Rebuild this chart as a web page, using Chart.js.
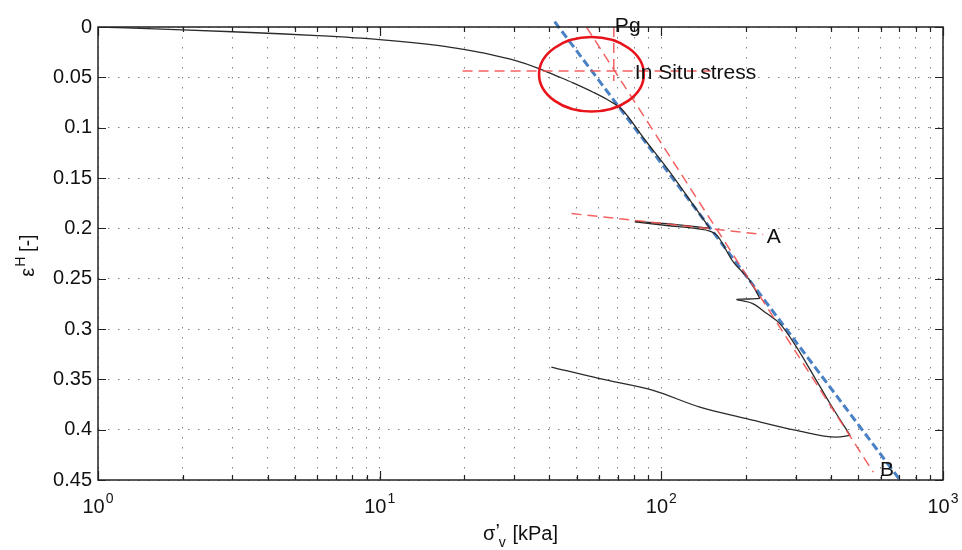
<!DOCTYPE html>
<html><head><meta charset="utf-8">
<script src="https://cdn.jsdelivr.net/npm/chart.js@4.4.1/dist/chart.umd.min.js"></script>
<style>html,body{margin:0;padding:0;background:#fff}#wrap{width:962px;height:550px;position:relative}</style>
</head><body><div id="wrap"><canvas id="c" width="962" height="550"></canvas></div>
<script>
// ---- data ----
// first loading up to point A
const loadSigma = [1, 2.0, 3.0, 4.0, 6.0, 10, 16.3, 20.1, 24.6, 30, 37, 42, 48.6, 57.3, 65.6, 72.1, 87.4, 106, 126.3, 148.6];
const loadEps = [0, 0.0028, 0.0047, 0.0062, 0.0085, 0.0125, 0.0185, 0.0225, 0.0272, 0.033, 0.0415, 0.048, 0.0555, 0.0648, 0.0735, 0.0812, 0.112, 0.1422, 0.172, 0.200];
// unloading from A
const unloadASigma = [80.5, 104.6, 148.6];
const unloadAEps = [0.193, 0.1954, 0.200];
// reloading from A-loop and further loading
const reloadASigma = [80.5, 104.6, 133.7, 148.6, 157.4, 180, 205, 223.9];
const reloadAEps = [0.1935, 0.1972, 0.2003, 0.2027, 0.2068, 0.2334, 0.251, 0.2695];
// second small unloading
const unload2Sigma = [185, 205, 223.9];
const unload2Eps = [0.2705, 0.2702, 0.2695];
// second reloading up to the end
const reload2Sigma = [185, 211, 237, 263.6, 302, 350, 397, 468];
const reload2Eps = [0.2708, 0.2748, 0.2847, 0.2947, 0.318, 0.348, 0.374, 0.4057];
// final unloading
const finalSigma = [40.7, 60.5, 93.5, 137, 200.8, 302, 419, 468];
const finalEps = [0.3378, 0.3494, 0.361, 0.3776, 0.389, 0.4007, 0.4074, 0.4057];
// reference lines
const blueSigma = [41.8, 703.7];
const blueEps = [-0.0053, 0.45];
const nclSigma = [54.2, 565.5];
const nclEps = [0, 0.4422];
const urlSigma = [48.0, 230];
const urlEps = [0.1853, 0.2061];
const insituSigma = [19.7, 150];
const insituEps = [0.0437, 0.0437];
const pgSigma = [67.8, 67.8];
const pgEps = [0, 0.0537];
const circleSigma = [36.8, 86.7];
const circleEps = [0.010, 0.084];
const noteTexts = ['Pg', 'In Situ stress', 'A', 'B'];
const noteSigma = [68.4, 80.5, 236.5, 597];
const noteEps = [0.0045, 0.0517, 0.2148, 0.4465];
const xMajor = [1, 10, 100, 1000];
const xExponents = ['0', '1', '2', '3'];
const yTicks = [0, 0.05, 0.1, 0.15, 0.2, 0.25, 0.3, 0.35, 0.4, 0.45];
const yTickLabels = ['0', '0.05', '0.1', '0.15', '0.2', '0.25', '0.3', '0.35', '0.4', '0.45'];
const xTitle = ['σ', '\u2019', 'v', ' [kPa]'];
const yTitle = ['ε', 'H', ' [-]'];

// ---- build ----
const zip = (xs, ys) => xs.map((x, i) => ({x: x, y: ys[i]}));
const xGrid = [];
xMajor.forEach((m, i) => { xGrid.push(m); if (i < xMajor.length - 1) for (let k = 2; k <= 9; k++) xGrid.push(m * k); });

const FONT = '"Liberation Sans", Arial, sans-serif';
const RED = 'rgba(242,80,80,0.9)';
const BLACK = '#2a2a2a';

const decor = {
  id: 'decor',
  afterDraw(chart) {
    const ctx = chart.ctx, ca = chart.chartArea, xs = chart.scales.x, ys = chart.scales.y;
    ctx.save();
    // ellipse
    const x1 = xs.getPixelForValue(circleSigma[0]), x2 = xs.getPixelForValue(circleSigma[1]);
    const y1 = ys.getPixelForValue(circleEps[0]), y2 = ys.getPixelForValue(circleEps[1]);
    ctx.beginPath();
    ctx.ellipse((x1 + x2) / 2, (y1 + y2) / 2, Math.abs(x2 - x1) / 2, Math.abs(y2 - y1) / 2, 0, 0, Math.PI * 2);
    ctx.strokeStyle = '#e8141c'; ctx.lineWidth = 2.6; ctx.stroke();
    // frame
    ctx.strokeStyle = '#222'; ctx.lineWidth = 1.5;
    ctx.strokeRect(ca.left, ca.top, ca.right - ca.left, ca.bottom - ca.top);
    // ticks
    ctx.lineWidth = 1.2;
    ctx.beginPath();
    xGrid.forEach(v => {
      const px = Math.round(xs.getPixelForValue(v)) + 0.5;
      const len = xMajor.includes(v) ? 9 : 5;
      ctx.moveTo(px, ca.bottom); ctx.lineTo(px, ca.bottom - len);
      ctx.moveTo(px, ca.top); ctx.lineTo(px, ca.top + len);
    });
    yTicks.forEach(v => {
      const py = Math.round(ys.getPixelForValue(v)) + 0.5;
      ctx.moveTo(ca.left, py); ctx.lineTo(ca.left + 8, py);
      ctx.moveTo(ca.right, py); ctx.lineTo(ca.right - 8, py);
    });
    ctx.stroke();
    ctx.fillStyle = '#111';
    // y tick labels
    ctx.font = '20px ' + FONT; ctx.textAlign = 'right'; ctx.textBaseline = 'middle';
    yTicks.forEach((v, i) => ctx.fillText(yTickLabels[i], ca.left - 6, ys.getPixelForValue(v)));
    // x tick labels 10^n
    ctx.textBaseline = 'alphabetic'; ctx.textAlign = 'left';
    xMajor.forEach((v, i) => {
      ctx.font = '20px ' + FONT; const w1 = ctx.measureText('10').width;
      ctx.font = '14px ' + FONT; const w2 = ctx.measureText(xExponents[i]).width;
      const x0 = xs.getPixelForValue(v) - (w1 + w2 + 1) / 2;
      ctx.font = '20px ' + FONT; ctx.fillText('10', x0, 513);
      ctx.font = '14px ' + FONT; ctx.fillText(xExponents[i], x0 + w1 + 1, 503);
    });
    // x title
    {
      ctx.font = '20px ' + FONT;
      const wa = ctx.measureText(xTitle[0]).width, wb = ctx.measureText(xTitle[1]).width, wd = ctx.measureText(xTitle[3]).width;
      ctx.font = '14px ' + FONT; const wc = ctx.measureText(xTitle[2]).width;
      let x0 = (ca.left + ca.right) / 2 - (wa + wb + wc + wd) / 2;
      const base = 540;
      ctx.font = '20px ' + FONT; ctx.fillText(xTitle[0], x0, base); ctx.fillText(xTitle[1], x0 + wa, base - 2);
      ctx.font = '14px ' + FONT; ctx.fillText(xTitle[2], x0 + wa + wb - 1, base + 7);
      ctx.font = '20px ' + FONT; ctx.fillText(xTitle[3], x0 + wa + wb + wc, base);
    }
    // y title (rotated)
    {
      ctx.save();
      ctx.translate(34, (ca.top + ca.bottom) / 2 + 2);
      ctx.rotate(-Math.PI / 2);
      ctx.font = '20px ' + FONT;
      const wa = ctx.measureText(yTitle[0]).width, wc = ctx.measureText(yTitle[2]).width;
      ctx.font = '14px ' + FONT; const wb = ctx.measureText(yTitle[1]).width;
      const x0 = -(wa + wb + wc) / 2;
      ctx.font = '20px ' + FONT; ctx.fillText(yTitle[0], x0, 0);
      ctx.font = '14px ' + FONT; ctx.fillText(yTitle[1], x0 + wa + 1, -9);
      ctx.font = '20px ' + FONT; ctx.fillText(yTitle[2], x0 + wa + wb, 0);
      ctx.restore();
    }
    // notes
    ctx.font = '21px ' + FONT;
    noteTexts.forEach((t, i) => ctx.fillText(t, xs.getPixelForValue(noteSigma[i]), ys.getPixelForValue(noteEps[i])));
    ctx.restore();
  }
};

const ds = (xs, ys, color, width, dash, extra) => Object.assign({
  data: zip(xs, ys), showLine: true, pointRadius: 0, borderColor: color, borderWidth: width,
  borderDash: dash, fill: false, tension: 0
}, extra || {});
const smooth = {cubicInterpolationMode: 'monotone'};

new Chart(document.getElementById('c'), {
  type: 'scatter',
  data: {
    datasets: [
      ds(insituSigma, insituEps, RED, 1.5, [10, 6]),
      ds(pgSigma, pgEps, RED, 1.5, [10, 6]),
      ds(urlSigma, urlEps, RED, 1.5, [10, 6]),
      ds(nclSigma, nclEps, RED, 1.5, [10, 6]),
      ds(loadSigma, loadEps, BLACK, 1.3, [], smooth),
      ds(unloadASigma, unloadAEps, BLACK, 1.3, [], smooth),
      ds(reloadASigma, reloadAEps, BLACK, 1.3, [], smooth),
      ds(unload2Sigma, unload2Eps, BLACK, 1.3, [], smooth),
      ds(reload2Sigma, reload2Eps, BLACK, 1.3, [], smooth),
      ds(finalSigma, finalEps, BLACK, 1.3, [], smooth),
      ds(blueSigma, blueEps, '#4a80c4', 3, [8, 4], {clip: false})
    ]
  },
  options: {
    responsive: false, animation: false, devicePixelRatio: 1,
    layout: {padding: {left: 98, right: 19, top: 27, bottom: 70}},
    plugins: {legend: {display: false}, tooltip: {enabled: false}},
    scales: {
      x: {
        type: 'logarithmic', min: 1, max: 1000,
        afterBuildTicks: s => { s.ticks = xGrid.map(v => ({value: v})); },
        ticks: {display: false},
        grid: {color: 'rgba(110,110,110,0.85)', lineWidth: 1, drawTicks: false},
        border: {display: false, dash: [1.5, 8.5]}
      },
      y: {
        type: 'linear', reverse: true, min: 0, max: 0.45,
        afterBuildTicks: s => { s.ticks = yTicks.map(v => ({value: v})); },
        ticks: {display: false},
        grid: {color: 'rgba(110,110,110,0.85)', lineWidth: 1, drawTicks: false},
        border: {display: false, dash: [1.5, 8.5]}
      }
    }
  },
  plugins: [decor]
});
</script></body></html>
